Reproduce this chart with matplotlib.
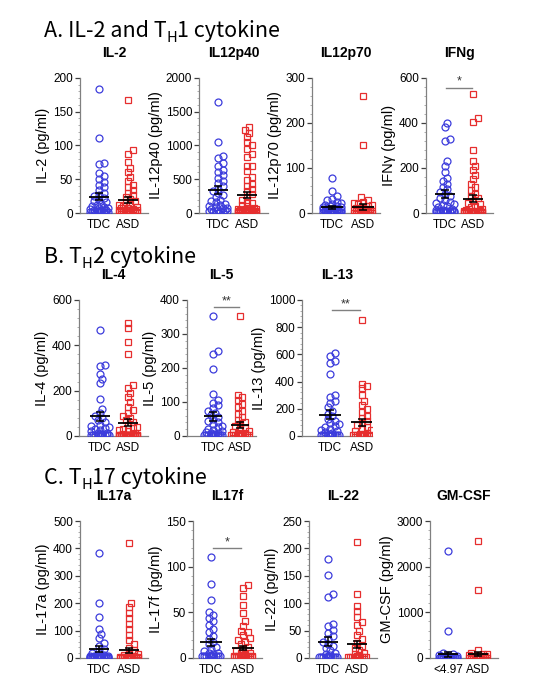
import numpy as np
import matplotlib
matplotlib.use('Agg')
import matplotlib.pyplot as plt
from matplotlib.ticker import MultipleLocator, AutoMinorLocator

plt.rcParams['font.family'] = ['Liberation Sans', 'DejaVu Sans']

# ---- data (pg/ml) ----
groups = ['TDC', 'ASD']

il2_tdc = [183, 111, 74, 72, 59, 55, 50, 46, 42, 38, 34, 30, 27, 25, 22, 20, 18, 16, 14, 12,
           10, 9, 8, 7, 6, 5, 5, 4, 4, 3, 3, 2, 2, 1, 1, 2, 2, 2, 2, 2, 2, 2, 2]
il2_asd = [167, 93, 88, 75, 66, 60, 53, 47, 42, 38, 34, 30, 27, 24, 21, 18, 16, 14, 12, 10,
           9, 8, 7, 6, 5, 5, 4, 4, 4, 3, 3, 3, 2, 2, 2, 2, 1, 1, 1, 1, 1, 1, 1, 1,
           1, 1, 1, 1, 1, 1, 1, 1, 1, 1]

il12p40_tdc = [1650, 1050, 840, 820, 740, 700, 640, 600, 560, 520, 480, 440, 400, 360, 320, 290,
               260, 230, 200, 180, 160, 140, 120, 100, 90, 80, 70, 60, 50, 40, 30, 20, 10, 5,
               30, 30, 30]
il12p40_asd = [1270, 1230, 1180, 1120, 1050, 1000, 950, 870, 830, 700, 690, 620, 540, 490, 430,
               400, 360, 320, 280, 240, 200, 170, 150, 120, 100, 80, 60, 50, 40, 30, 20, 10,
               60, 55, 50, 45, 40, 35, 30, 28, 25, 22, 20, 18, 16, 14, 12, 10, 9, 8, 7, 6,
               5, 5, 4, 4, 3, 3, 2, 2]

il12p70_tdc = [78, 48, 38, 32, 28, 25, 22, 20, 18, 16, 15, 14, 13, 12, 11, 10, 9, 8, 7, 6,
               5, 5, 4, 4, 3, 3, 2, 2, 1, 1, 2, 2, 2, 2, 2, 2, 2, 2]
il12p70_asd = [260, 150, 35, 30, 25, 22, 20, 18, 16, 14, 12, 10, 9, 8, 7, 6, 5, 5, 4, 4,
               3, 3, 2, 2, 1, 1, 1, 1, 1, 1, 1, 1, 1, 1, 1, 1, 1, 1, 1, 1, 1, 1, 1, 1,
               1, 1, 1, 1, 1, 1, 1, 1]

ifng_tdc = [398, 380, 330, 320, 230, 210, 180, 155, 140, 130, 115, 105, 95, 85, 75, 65, 58, 50,
            45, 40, 35, 30, 25, 20, 15, 10, 8, 5, 3, 12, 10, 9, 8, 8, 7, 7, 6, 6, 5, 5]
ifng_asd = [530, 420, 405, 280, 230, 210, 190, 170, 150, 130, 115, 100, 85, 75, 65, 55, 45, 38,
            30, 25, 20, 15, 10, 8, 5, 3, 8, 7, 7, 6, 6, 5, 5, 5, 5, 4, 4, 4, 4, 4, 4, 3,
            3, 3, 3, 3, 3, 3, 2, 2, 2, 2, 2, 2, 2]

il4_tdc = [468, 315, 308, 275, 250, 232, 165, 120, 100, 90, 80, 70, 60, 50, 45, 40, 35, 30,
           25, 20, 15, 12, 10, 8, 5, 3, 2, 3, 3, 3, 3, 3, 3]
il4_asd = [500, 475, 415, 360, 225, 210, 190, 170, 150, 130, 115, 100, 90, 80, 70, 60, 50, 40,
           35, 30, 25, 20, 15, 10, 8, 5, 3, 5, 5, 5, 5, 5, 4, 4, 4, 4, 4, 4, 3, 3, 3, 3,
           3, 3, 3, 3, 3, 2, 2, 2, 2, 2, 2, 2, 1, 1, 1, 1, 1, 1, 1, 1]

il5_tdc = [353, 250, 240, 198, 125, 105, 98, 90, 82, 75, 68, 62, 56, 50, 45, 40, 35, 30, 26,
           22, 18, 15, 12, 10, 8, 6, 4, 2, 3, 3, 3, 3, 3, 3, 3, 3, 3]
il5_asd = [353, 120, 115, 105, 95, 85, 75, 65, 55, 48, 42, 36, 30, 25, 20, 16, 12, 10, 8, 6,
           4, 3, 3, 3, 3, 3, 3, 3, 3, 3, 3, 3, 3, 3, 3, 3, 3, 3, 3, 3, 3, 3, 3, 3]

il13_tdc = [612, 590, 550, 535, 455, 300, 285, 260, 245, 210, 185, 165, 145, 125, 110, 95, 85,
            75, 65, 55, 45, 38, 30, 22, 15, 8, 3, 5, 5, 5, 5, 5, 5, 5]
il13_asd = [850, 385, 370, 350, 300, 260, 230, 200, 175, 150, 130, 110, 95, 80, 65, 55, 45, 35,
            25, 18, 12, 8, 5, 5, 5, 5, 5, 5, 5, 5, 5, 5, 5, 5, 5, 5, 5, 5, 5, 5]

il17a_tdc = [385, 200, 148, 105, 88, 72, 55, 42, 32, 25, 18, 12, 8, 5, 3, 10, 8, 7, 6, 5,
             5, 4, 4, 3, 3, 3, 3, 2, 2, 2, 2, 2, 2, 1, 1, 1, 1, 1, 1, 1]
il17a_asd = [420, 200, 185, 165, 145, 125, 105, 85, 65, 50, 38, 28, 20, 14, 10, 6, 3, 3, 3, 2,
             2, 2, 2, 2, 2, 2, 2, 2, 2, 2, 2, 2, 2, 1, 1, 1, 1, 1, 1, 1, 1, 1, 1, 1,
             1, 1, 1, 1, 1, 1, 1, 1, 1, 1, 1, 1, 1, 1, 1, 1, 1, 1]

il17f_tdc = [111, 81, 63, 50, 47, 44, 40, 36, 32, 28, 24, 21, 18, 15, 12, 10, 8, 6, 5, 4, 3, 2,
             2, 2, 2, 2, 2, 2, 2, 2, 2, 2, 2, 2, 2, 2, 2, 2, 2, 2]
il17f_asd = [80, 77, 68, 58, 49, 40, 35, 30, 28, 25, 22, 20, 18, 15, 12, 10, 8, 6, 5, 4, 3, 2,
             2, 2, 2, 2, 2, 2, 2, 2, 2, 2, 2, 2, 2, 2, 2, 2, 2, 1, 1, 1, 1, 1, 1, 1, 1,
             1, 1, 1, 1, 1, 1, 1, 1, 1, 1, 1, 1, 1]

il22_tdc = [180, 152, 117, 112, 62, 58, 52, 46, 40, 35, 30, 26, 22, 18, 14, 10, 7, 5, 3, 2,
            2, 2, 2, 2, 2, 2, 2, 2, 2, 2, 2, 2, 2, 2]
il22_asd = [212, 117, 95, 85, 75, 65, 60, 50, 42, 35, 28, 22, 18, 14, 10, 7, 5, 3,
            2, 2, 2, 2, 2, 2, 2, 2, 2, 2, 2, 2, 2, 2, 2, 2, 2, 2, 2, 2, 2, 2]

gmcsf_tdc = [2340, 600, 100, 80, 70, 60, 50, 40, 30, 25, 20, 15, 10, 8, 5,
             5, 5, 5, 5, 5, 5, 5, 5, 5, 5, 5, 5, 5, 5, 5, 5, 5, 5, 5, 5, 5, 5, 5, 5, 5,
             5, 5, 5, 5, 5, 5]
gmcsf_asd = [2560, 1490, 180, 100, 90, 80, 70, 60, 50, 40, 30, 20, 15, 10, 5,
             5, 5, 5, 5, 5, 5, 5, 5, 5, 5, 5, 5, 5, 5, 5, 5, 5, 5, 5, 5, 5, 5, 5, 5, 5,
             5, 5, 5, 5, 5, 5, 5, 5, 5, 5, 5, 5, 5, 5, 5, 5, 5, 5, 5, 5]

# title, ylabel, tdc, asd, ymax, ystep, group labels, significance (y, text)
panels = [
    ('IL-2', 'IL-2 (pg/ml)', il2_tdc, il2_asd, 200, 50, groups, None),
    ('IL12p40', 'IL-12p40 (pg/ml)', il12p40_tdc, il12p40_asd, 2000, 500, groups, None),
    ('IL12p70', 'IL-12p70 (pg/ml)', il12p70_tdc, il12p70_asd, 300, 100, groups, None),
    ('IFNg', 'IFNγ (pg/ml)', ifng_tdc, ifng_asd, 600, 200, groups, (557, '*')),
    ('IL-4', 'IL-4 (pg/ml)', il4_tdc, il4_asd, 600, 200, groups, None),
    ('IL-5', 'IL-5 (pg/ml)', il5_tdc, il5_asd, 400, 100, groups, (378, '**')),
    ('IL-13', 'IL-13 (pg/ml)', il13_tdc, il13_asd, 1000, 200, groups, (925, '**')),
    ('IL17a', 'IL-17a (pg/ml)', il17a_tdc, il17a_asd, 500, 100, groups, None),
    ('IL17f', 'IL-17f (pg/ml)', il17f_tdc, il17f_asd, 150, 50, groups, (120, '*')),
    ('IL-22', 'IL-22 (pg/ml)', il22_tdc, il22_asd, 250, 50, groups, None),
    ('GM-CSF', 'GM-CSF (pg/ml)', gmcsf_tdc, gmcsf_asd, 3000, 1000, ['<4.97', 'ASD'], None),
]

# layout in pixels: spine x, right end x, TDC x, ASD x, top y, bottom y
layout = [
    (80, 148, 99, 128, 78, 213), (199, 268, 218, 247, 78, 213),
    (312, 380, 332, 363, 78, 213), (426, 493, 445, 473, 78, 213),
    (79, 148, 100, 128, 300, 436), (187, 256, 213, 240, 300, 436),
    (302, 372, 330, 362, 300, 436),
    (80, 148, 99, 129, 521, 658), (193, 262, 211, 243, 521, 658),
    (309, 377, 328, 357, 521, 658), (430, 498, 448, 478, 521, 658),
]

W, H = 537, 684
fig = plt.figure(figsize=(W / 100, H / 100), dpi=100)

BLUE = '#3c3cdc'
RED = '#e62e2e'
GREY = '#808080'


def swarm_offsets(ax, vals, d=4.6, step=2.3, maxw=10):
    vals = np.asarray(vals, float)
    ypx = ax.transData.transform(np.column_stack([np.zeros(len(vals)), vals]))[:, 1]
    cands = [0.0]
    k = 1
    while k * step <= maxw:
        cands += [k * step, -k * step]
        k += 1
    xs = np.zeros(len(vals))
    placed = []
    for i in np.argsort(ypx):
        best, bestd = 0.0, -1
        for c in cands:
            if placed:
                p = np.array(placed)
                md = np.min(np.hypot(p[:, 0] - c, p[:, 1] - ypx[i]))
            else:
                md = np.inf
            if md >= d:
                best = c
                break
            if md > bestd:
                best, bestd = c, md
        xs[i] = best
        placed.append((best, ypx[i]))
    x0 = ax.transData.transform([[0, 0]])[0, 0]
    x1 = ax.transData.transform([[1, 0]])[0, 0]
    return xs / (x1 - x0)


for (title, ylab, tdc, asd, ymax, ystep, labels, sig), (sx, rx, tx, axx, top, bot) in zip(panels, layout):
    ax = fig.add_axes([sx / W, 1 - bot / H, (rx - sx) / W, (bot - top) / H])
    scale = axx - tx
    ax.set_xlim((sx - tx) / scale, (rx - tx) / scale)
    ax.set_ylim(0, ymax)

    for pos, vals, mk, col in [(0, tdc, 'o', BLUE), (1, asd, 's', RED)]:
        off = swarm_offsets(ax, vals)
        ax.plot(pos + off, vals, mk, ls='none', mfc='none', mec=col, ms=5, mew=0.9, zorder=3)
        m = np.mean(vals)
        se = np.std(vals, ddof=1) / np.sqrt(len(vals))
        ax.hlines(m, pos - 0.34, pos + 0.34, color='k', lw=1.3, zorder=4)
        ax.errorbar(pos, m, yerr=se, fmt='none', ecolor='k', elinewidth=1.1, capsize=3,
                    capthick=1.1, zorder=4)

    if sig is not None:
        ax.plot([0.05, 0.95], [sig[0], sig[0]], color=GREY, lw=1, clip_on=False)
        ax.text(0.5, sig[0], sig[1], ha='center', va='bottom', fontsize=9, color='#333333')

    ax.set_xticks([0, 1])
    ax.set_xticklabels(labels, fontsize=8.5)
    ax.tick_params(axis='x', length=0, pad=4)
    ax.yaxis.set_major_locator(MultipleLocator(ystep))
    ax.yaxis.set_minor_locator(AutoMinorLocator(5))
    ax.tick_params(axis='y', which='major', length=3.5, width=0.9, labelsize=8.5, pad=1.5,
                   color='#404040')
    ax.tick_params(axis='y', which='minor', length=1.5, width=0.6, color='#a0a0a0')
    for s in ['top', 'right']:
        ax.spines[s].set_visible(False)
    for s in ['left', 'bottom']:
        ax.spines[s].set_color(GREY)
        ax.spines[s].set_linewidth(0.9)
    ax.set_ylabel(ylab, fontsize=10.5, labelpad=2)
    fig.text((sx + rx) / 2 / W, 1 - (top - 25) / H, title, ha='center', va='center',
             fontsize=10, fontweight='bold')

# section headings with subscript H
renderer = fig.canvas.get_renderer()
cjk = ['Noto Sans CJK KR', 'DejaVu Sans']
for pre, post, base in [('A. IL-2 and T', '1 cytokine', 37), ('B. T', '2 cytokine', 263),
                        ('C. T', '17 cytokine', 484)]:
    y = 1 - base / H
    t1 = fig.text(44 / W, y, pre, fontsize=15.5, family=cjk, va='baseline')
    x = t1.get_window_extent(renderer).x1 / W
    t2 = fig.text(x, y - 5 / H, 'H', fontsize=10.5, family=cjk, va='baseline')
    x = t2.get_window_extent(renderer).x1 / W
    fig.text(x, y, post, fontsize=15.5, family=cjk, va='baseline')

fig.savefig('out.png', dpi=100)
